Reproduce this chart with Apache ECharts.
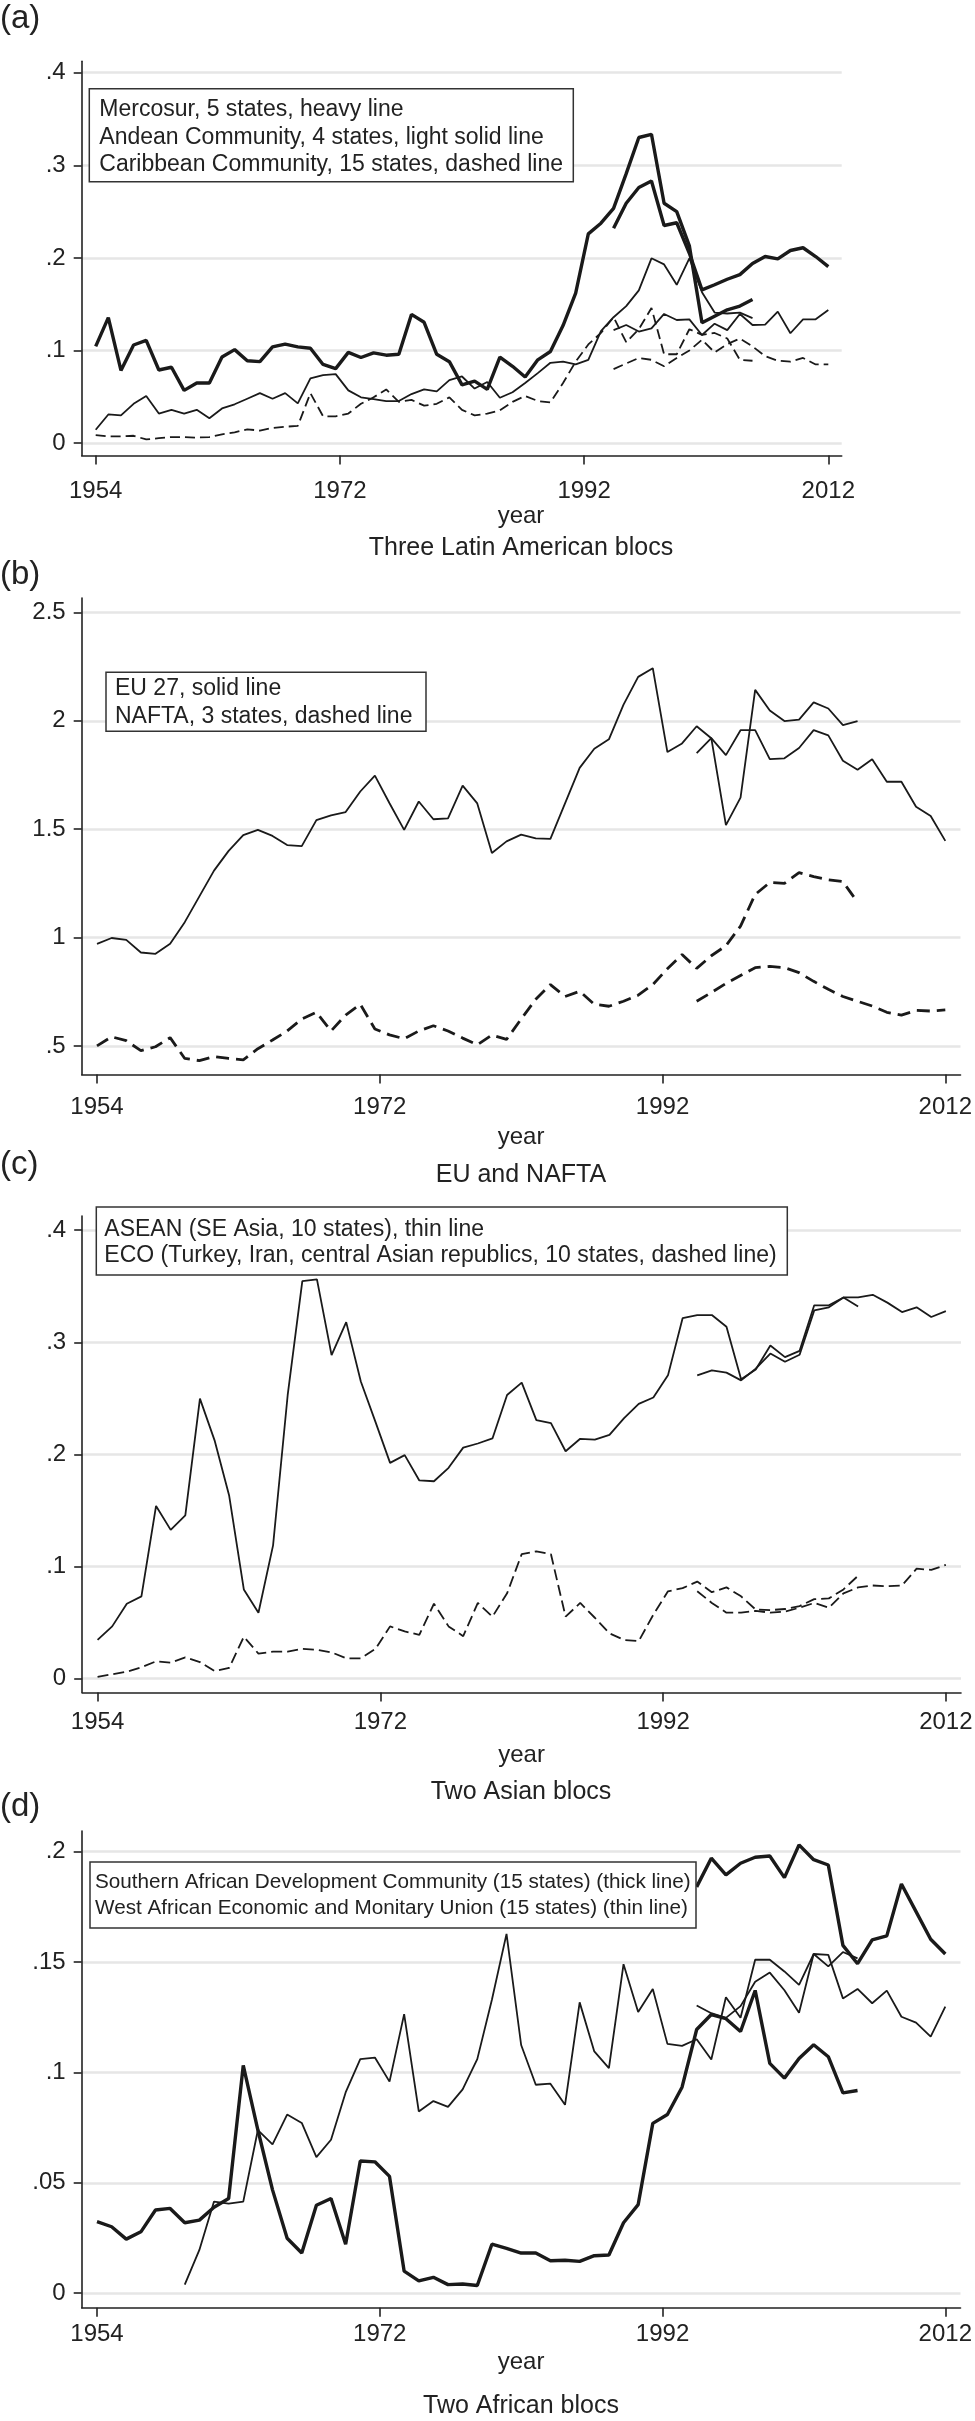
<!DOCTYPE html>
<html><head><meta charset="utf-8">
<script src="https://cdn.jsdelivr.net/npm/echarts@6/dist/echarts.min.js"></script>
<style>html,body{margin:0;padding:0;background:#fff}#c{width:975px;height:2421px}</style>
</head><body><div id="c"></div>
<script>
// ---------- tick labels ----------
const xTickLabels = ['1954', '1972', '1992', '2012'];
const yTicksA = [0, 0.1, 0.2, 0.3, 0.4];      const yLabelsA = ['0', '.1', '.2', '.3', '.4'];
const yTicksB = [0.5, 1, 1.5, 2, 2.5];        const yLabelsB = ['.5', '1', '1.5', '2', '2.5'];
const yTicksC = [0, 0.1, 0.2, 0.3, 0.4];      const yLabelsC = ['0', '.1', '.2', '.3', '.4'];
const yTicksD = [0, 0.05, 0.1, 0.15, 0.2];    const yLabelsD = ['0', '.05', '.1', '.15', '.2'];

// first year of each series
const histStart = 1954;   // historical series, 1954-2006
const modStart = 1995;    // recent series, 1995-2012
const waemuStart = 1960;  // WAEMU historical series, 1960-2006

// ---------- (a) Three Latin American blocs ----------
const mercosurHist = [0.1045,0.1355,0.0785,0.106,0.111,0.079,0.082,0.057,0.065,0.065,
  0.093,0.101,0.089,0.088,0.104,0.107,0.104,0.1025,0.085,0.0805,
  0.098,0.0925,0.0975,0.095,0.096,0.139,0.1305,0.096,0.088,0.063,
  0.067,0.058,0.093,0.083,0.0715,0.090,0.099,0.127,0.162,0.226,
  0.2375,0.2535,0.291,0.330,0.3335,0.259,0.250,0.213,0.130,0.137,
  0.144,0.148,0.155];
const mercosurMod = [0.232,0.259,0.276,0.283,0.235,0.238,0.205,0.1655,0.171,0.177,
  0.182,0.194,0.2015,0.199,0.208,0.211,0.2015,0.1906];
const andeanHist = [0.0145,0.031,0.030,0.0425,0.051,0.032,0.036,0.032,0.036,0.027,
  0.0375,0.042,0.048,0.054,0.048,0.054,0.043,0.070,0.0735,0.0745,
  0.057,0.0495,0.0475,0.0455,0.0455,0.053,0.058,0.056,0.068,0.072,
  0.059,0.066,0.049,0.055,0.065,0.0756,0.0868,0.088,0.085,0.090,
  0.121,0.136,0.148,0.165,0.1996,0.193,0.171,0.1996,0.163,0.141,
  0.140,0.141,0.135];
const andeanMod = [0.122,0.1276,0.1205,0.124,0.1395,0.133,0.1337,0.1168,0.129,0.122,
  0.1395,0.1276,0.128,0.142,0.1187,0.1337,0.1337,0.1438];
const caribHist = [0.0087,0.0074,0.0074,0.008,0.004,0.0054,0.0066,0.0066,0.006,0.0066,
  0.0095,0.0116,0.015,0.0136,0.0165,0.0178,0.0186,0.054,0.029,0.029,
  0.032,0.0425,0.0495,0.058,0.0446,0.0467,0.0405,0.0425,0.0495,0.036,
  0.030,0.032,0.0355,0.0446,0.051,0.0455,0.044,0.065,0.088,0.1066,
  0.119,0.136,0.109,0.123,0.146,0.096,0.096,0.123,0.117,0.119,
  0.113,0.090,0.089];
const caribMod = [0.080,0.086,0.092,0.090,0.083,0.092,0.100,0.1116,0.098,0.107,
  0.113,0.1045,0.094,0.089,0.088,0.092,0.085,0.085];

// ---------- (b) EU and NAFTA ----------
const euHist = [0.971,0.998,0.989,0.931,0.925,0.971,1.071,1.19,1.309,1.40,
  1.473,1.497,1.469,1.427,1.422,1.542,1.564,1.579,1.674,1.747,
  1.62,1.497,1.628,1.546,1.55,1.701,1.619,1.39,1.444,1.475,
  1.458,1.455,1.619,1.783,1.871,1.915,2.075,2.203,2.243,1.856,
  1.896,1.975,1.92,1.519,1.646,2.143,2.048,1.999,2.006,2.085,
  2.057,1.98,1.999];
const euMod = [1.851,1.92,1.842,1.957,1.957,1.823,1.827,1.875,1.957,1.933,
  1.816,1.774,1.823,1.719,1.719,1.604,1.561,1.446];
const naftaHist = [0.5,0.542,0.524,0.478,0.496,0.538,0.442,0.432,0.451,0.442,
  0.436,0.487,0.527,0.569,0.624,0.655,0.569,0.642,0.692,0.578,
  0.551,0.533,0.569,0.593,0.569,0.536,0.505,0.55,0.53,0.624,
  0.715,0.783,0.728,0.752,0.692,0.683,0.706,0.734,0.783,0.856,
  0.922,0.858,0.916,0.962,1.053,1.199,1.254,1.25,1.30,1.281,
  1.267,1.258,1.163];
const naftaMod = [0.706,0.746,0.788,0.825,0.861,0.867,0.861,0.838,0.798,0.761,
  0.728,0.706,0.684,0.655,0.642,0.664,0.661,0.666];

// ---------- (c) Two Asian blocs ----------
const aseanHist = [0.0344,0.0465,0.0667,0.0733,0.154,0.1326,0.1455,0.2497,0.2125,0.163,
  0.0795,0.0587,0.1188,0.253,0.3545,0.3562,0.2885,0.318,0.265,0.229,
  0.1924,0.1993,0.1767,0.176,0.188,0.206,0.2097,0.2142,0.253,0.264,
  0.2306,0.2278,0.2028,0.2139,0.2132,0.2174,0.2323,0.2451,0.2507,0.2705,
  0.3215,0.3243,0.3243,0.3139,0.267,0.2757,0.2972,0.2868,0.2924,0.333,
  0.333,0.34,0.332];
const aseanMod = [0.2705,0.275,0.2729,0.266,0.2764,0.290,0.2826,0.2889,0.3285,0.3312,
  0.34,0.34,0.3424,0.3354,0.327,0.3312,0.3226,0.3278];
const ecoHist = [0.0014,0.0038,0.006,0.010,0.0153,0.0142,0.0188,0.0146,0.0066,0.0094,
  0.0372,0.0222,0.024,0.024,0.0264,0.0257,0.0233,0.018,0.018,0.0264,
  0.0465,0.042,0.0389,0.0667,0.0465,0.0378,0.0674,0.0552,0.076,0.111,
  0.1135,0.1108,0.0552,0.0674,0.0542,0.0403,0.0344,0.0333,0.0569,0.0778,
  0.0806,0.0865,0.077,0.0813,0.0733,0.0615,0.061,0.062,0.0646,0.0708,
  0.0715,0.0795,0.0917];
const ecoMod = [0.0778,0.0674,0.0587,0.0587,0.0604,0.0587,0.0597,0.0632,0.0674,0.0632,
  0.076,0.0813,0.083,0.0823,0.083,0.098,0.0969,0.1014];

// ---------- (d) Two African blocs ----------
const sadcHist = [0.0324,0.0301,0.0245,0.0278,0.0377,0.0384,0.0319,0.0331,0.0389,0.0429,
  0.1032,0.0739,0.0468,0.0249,0.0182,0.0398,0.0429,0.0222,0.0599,0.0595,
  0.0529,0.010,0.0056,0.0072,0.0039,0.0042,0.0035,0.0222,0.0203,0.0182,
  0.0182,0.0147,0.0149,0.0144,0.017,0.0173,0.0319,0.0401,0.0769,0.0809,
  0.0933,0.1194,0.1262,0.1243,0.1185,0.1371,0.1041,0.0974,0.1063,0.1125,
  0.1071,0.0907,0.0918];
const sadcMod = [0.184,0.197,0.1894,0.1947,0.1974,0.198,0.1882,0.203,0.1963,0.1939,
  0.1575,0.1492,0.16,0.1618,0.1853,0.1728,0.1603,0.1536];
const waemuHist = [0.0039,0.0196,0.0415,0.0406,0.0415,0.0739,0.0674,0.0809,0.0771,0.0616,
  0.0695,0.0909,0.106,0.1067,0.0958,0.1264,0.0823,0.087,0.0844,0.0923,
  0.106,0.1329,0.1627,0.1124,0.0944,0.0949,0.0853,0.1317,0.1095,0.1019,
  0.149,0.1273,0.1378,0.1129,0.112,0.115,0.1058,0.134,0.1247,0.151,
  0.151,0.1457,0.1396,0.1536,0.148,0.1545,0.1516];
const waemuMod = [0.1303,0.1268,0.1247,0.13,0.141,0.1452,0.1372,0.127,0.1536,0.1532,
  0.1335,0.1378,0.1313,0.137,0.1252,0.1225,0.1162,0.1298];

// ---------- build ----------
const FONT = '"Liberation Sans", Arial, Helvetica, sans-serif';
const INK = '#1a1a1a';
const firstYear = 1954, lastYear = 2012;
const xTickPos = xTickLabels.map((_, i) => firstYear + i * (lastYear - firstYear) / (xTickLabels.length - 1));

const heavy = { color: INK, width: 3.4 };
const thin = { color: INK, width: 1.8 };
const dashA = { color: INK, width: 1.8, type: [10, 5] };
const dashB = { color: INK, width: 2.8, type: [13, 7] };
const dashC = { color: INK, width: 1.8, type: [11, 5] };

function line(name, idx, start, values, style) {
  return {
    type: 'line', name, xAxisIndex: idx, yAxisIndex: idx,
    data: values.map((v, i) => [start + i, v]),
    symbol: 'none', showSymbol: false, silent: true, animation: false,
    lineStyle: style, z: 3
  };
}

function pick(ticks, labels) {
  return v => { const k = ticks.findIndex(t => Math.abs(t - v) < 1e-7); return k < 0 ? '' : labels[k]; };
}

const grids = [
  { left: 81.7, top: 61.2, width: 760, height: 394.2 },
  { left: 81.7, top: 598, width: 878.8, height: 476.4 },
  { left: 82.2, top: 1216, width: 878.8, height: 476.5 },
  { left: 81.7, top: 1831, width: 878.8, height: 476.8 }
].map(g => Object.assign({ outerBoundsMode: 'none', containLabel: false }, g));

const xRanges = [[1952.892, 2013.061], [1952.954, 2013.039], [1952.95, 2013.035], [1952.954, 2013.039]];
const xLabelMargins = [24, 21, 18, 15];
const xNameGaps = [46, 51, 51, 43];
const xNamePad = [[0, 0, 0, 118.6], [0, 0, 0, 0], [0, 0, 0, 0], [0, 0, 0, 0]];

const xAxes = grids.map((g, i) => ({
  type: 'value', gridIndex: i, min: xRanges[i][0], max: xRanges[i][1],
  axisLine: { show: true, onZero: false, lineStyle: { color: '#222', width: 1.6 } },
  axisTick: { show: true, length: 9, customValues: xTickPos, lineStyle: { color: '#222', width: 1.6 } },
  axisLabel: { customValues: xTickPos, formatter: pick(xTickPos, xTickLabels), fontSize: 24,
    fontFamily: FONT, color: '#222', margin: xLabelMargins[i] },
  splitLine: { show: false },
  name: 'year', nameLocation: 'middle', nameGap: xNameGaps[i],
  nameTextStyle: { fontSize: 24, fontFamily: FONT, color: '#222', padding: xNamePad[i] }
}));

const yDefs = [
  { min: -0.0132, max: 0.4124, ticks: yTicksA, labels: yLabelsA },
  { min: 0.3685, max: 2.567, ticks: yTicksB, labels: yLabelsB },
  { min: -0.0125, max: 0.4127, ticks: yTicksC, labels: yLabelsC },
  { min: -0.0066, max: 0.2093, ticks: yTicksD, labels: yLabelsD }
];
const yAxes = yDefs.map((d, i) => ({
  type: 'value', gridIndex: i, min: d.min, max: d.max,
  axisLine: { show: true, onZero: false, lineStyle: { color: '#222', width: 1.6 } },
  axisTick: { show: true, length: 8, customValues: d.ticks, lineStyle: { color: '#222', width: 1.6 } },
  axisLabel: { customValues: d.ticks, formatter: pick(d.ticks, d.labels), fontSize: 24,
    fontFamily: FONT, color: '#222', margin: 16 },
  splitLine: { show: true, lineStyle: { color: '#e6e6e6', width: 2.5 } }
}));

const series = [
  line('Mercosur', 0, histStart, mercosurHist, heavy),
  line('Mercosur', 0, modStart, mercosurMod, heavy),
  line('Andean Community', 0, histStart, andeanHist, thin),
  line('Andean Community', 0, modStart, andeanMod, thin),
  line('Caribbean Community', 0, histStart, caribHist, dashA),
  line('Caribbean Community', 0, modStart, caribMod, dashA),
  line('EU 27', 1, histStart, euHist, thin),
  line('EU 27', 1, modStart, euMod, thin),
  line('NAFTA', 1, histStart, naftaHist, dashB),
  line('NAFTA', 1, modStart, naftaMod, dashB),
  line('ASEAN', 2, histStart, aseanHist, thin),
  line('ASEAN', 2, modStart, aseanMod, thin),
  line('ECO', 2, histStart, ecoHist, dashC),
  line('ECO', 2, modStart, ecoMod, dashC),
  line('SADC', 3, histStart, sadcHist, heavy),
  line('SADC', 3, modStart, sadcMod, heavy),
  line('WAEMU', 3, waemuStart, waemuHist, thin),
  line('WAEMU', 3, modStart, waemuMod, thin)
];

function tag(text, top) {
  return { text, left: 0, top, padding: 0, textStyle: { fontSize: 33, fontWeight: 'normal', fontFamily: FONT, color: '#222' } };
}
function sub(text, top) {
  return { text, left: 521, top, textAlign: 'center', padding: 0,
    textStyle: { fontSize: 25, fontWeight: 'normal', fontFamily: FONT, color: '#222' } };
}
function box(lines, left, top, pad, size, lh) {
  return { text: lines.join('\n'), left, top, padding: pad, backgroundColor: '#fff',
    borderColor: '#333', borderWidth: 1.5,
    textStyle: { fontSize: size, lineHeight: lh, fontWeight: 'normal', fontFamily: FONT, color: '#222' } };
}

const titles = [
  tag('(a)', 2), tag('(b)', 558), tag('(c)', 1148), tag('(d)', 1790),
  sub('Three Latin American blocs', 536), sub('EU and NAFTA', 1163),
  sub('Two Asian blocs', 1780), sub('Two African blocs', 2394),
  box(['Mercosur, 5 states, heavy line', 'Andean Community, 4 states, light solid line',
       'Caribbean Community, 15 states, dashed line'], 89.3, 88.8, [7, 11, 3, 10], 23, 27.6),
  box(['EU 27, solid line', 'NAFTA, 3 states, dashed line'], 106, 672.2, [3, 14, 1, 9], 23, 27.7),
  box(['ASEAN (SE Asia, 10 states), thin line',
       'ECO (Turkey, Iran, central Asian republics, 10 states, dashed line)'], 95.7, 1207, [9, 11, 6, 8.6], 23, 26.5),
  box(['Southern African Development Community (15 states) (thick line)',
       'West African Economic and Monitary Union (15 states) (thin line)'], 89.3, 1861.4, [8.6, 6, 7.5, 5.7], 20.7, 25.2)
];

const chart = echarts.init(document.getElementById('c'), null, { renderer: 'canvas' });
chart.setOption({
  backgroundColor: '#fff', animation: false,
  title: titles, grid: grids, xAxis: xAxes, yAxis: yAxes, series
});
</script></body></html>
